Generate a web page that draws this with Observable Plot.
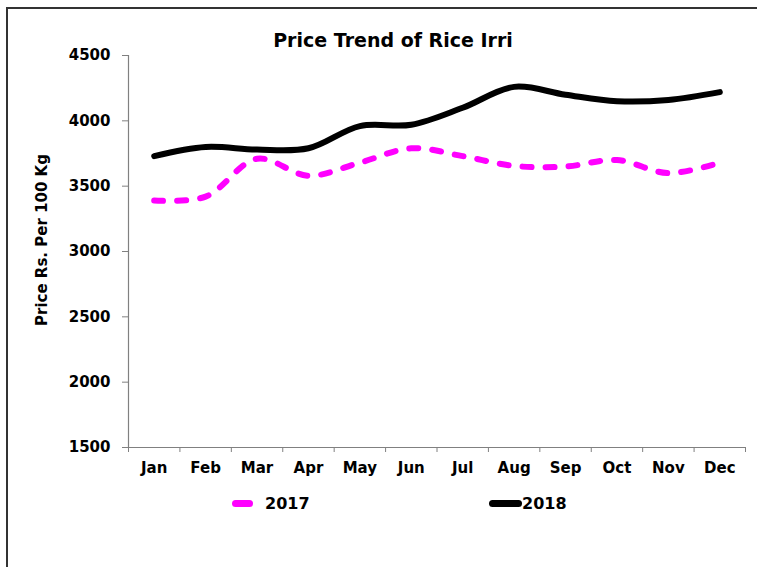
<!DOCTYPE html>
<html>
<head>
<meta charset="utf-8">
<script src="https://cdn.jsdelivr.net/npm/d3@7"></script>
<script src="https://cdn.jsdelivr.net/npm/@observablehq/plot@0.6"></script>
<style>
  html, body { margin: 0; padding: 0; background: #fff; }
  #wrap { position: relative; width: 757px; height: 567px; overflow: hidden; background: #fff;
          font-family: "DejaVu Sans", sans-serif; font-weight: bold; color: #000; }
  #frame { position: absolute; left: 6px; top: 7px; width: 760px; height: 600px;
           border-top: 2px solid #333; border-left: 2px solid #333; }
  #title { position: absolute; left: 0; width: 786px; top: 29px; text-align: center; font-size: 19px; }
  #ylab { position: absolute; left: 42px; top: 240px; font-size: 15px; white-space: nowrap;
          transform: translate(-50%, -50%) rotate(-90deg); }
  .leg { position: absolute; top: 494px; font-size: 16px; display: flex; align-items: center; }
  .sw { display: inline-block; height: 7px; border-radius: 4px; }
  #chart { position: absolute; left: 0; top: 0; }
</style>
</head>
<body>
<div id="wrap">
  <div id="frame"></div>
  <div id="chart"></div>
  <div id="title">Price Trend of Rice Irri</div>
  <div id="ylab"></div>
  <div class="leg" style="left:232px"><span class="sw" style="width:21px;background:#ff00ff"></span><span style="margin-left:12px">2017</span></div>
  <div class="leg" style="left:489px"><span class="sw" style="width:33px;background:#000"></span><span>2018</span></div>
</div>
<script>
const months = ["Jan","Feb","Mar","Apr","May","Jun","Jul","Aug","Sep","Oct","Nov","Dec"];
const price2017 = [3390, 3420, 3710, 3580, 3680, 3790, 3730, 3655, 3650, 3700, 3600, 3680];
const price2018 = [3730, 3800, 3780, 3790, 3960, 3970, 4100, 4260, 4200, 4150, 4160, 4220];
const yTicks = [1500, 2000, 2500, 3000, 3500, 4000, 4500];
const yLabel = "Price Rs. Per 100 Kg";

document.getElementById("ylab").textContent = yLabel;

const d17 = months.map((m, i) => ({i, v: price2017[i]}));
const d18 = months.map((m, i) => ({i, v: price2018[i]}));
const centers = months.map((m, i) => i);
const edges = d3.range(months.length + 1).map(i => i - 0.5);

const axisColor = "#808080";
const chart = Plot.plot({
  width: 757,
  height: 567,
  marginTop: 55,
  marginBottom: 120,
  marginLeft: 128,
  marginRight: 12,
  style: {fontFamily: "DejaVu Sans, sans-serif", fontWeight: "bold", fontSize: "15px", color: "#000", background: "transparent"},
  x: {type: "linear", domain: [-0.5, months.length - 0.5], axis: null},
  y: {domain: [1500, 4500], axis: null},
  marks: [
    Plot.axisY(yTicks, {tickSize: 6, tickPadding: 12, tickFormat: d => String(d), stroke: axisColor, fill: "#000", fontSize: 15, fontWeight: "bold", label: null}),
    Plot.axisX(edges, {tickSize: 5, stroke: axisColor, tickFormat: () => "", label: null}),
    Plot.axisX(centers, {tickSize: 0, tickPadding: 15, tickFormat: i => months[i], fill: "#000", fontSize: 15, fontWeight: "bold", label: null}),
    Plot.ruleX([-0.5], {stroke: axisColor, strokeWidth: 1.2}),
    Plot.ruleY([1500], {stroke: axisColor, strokeWidth: 1.2}),
    Plot.line(d17, {x: "i", y: "v", stroke: "#ff00ff", strokeWidth: 6, strokeDasharray: "9,14", strokeLinecap: "round", curve: "catmull-rom"}),
    Plot.line(d18, {x: "i", y: "v", stroke: "#000", strokeWidth: 6, strokeLinecap: "round", curve: "catmull-rom"})
  ]
});
document.getElementById("chart").appendChild(chart);
</script>
</body>
</html>
